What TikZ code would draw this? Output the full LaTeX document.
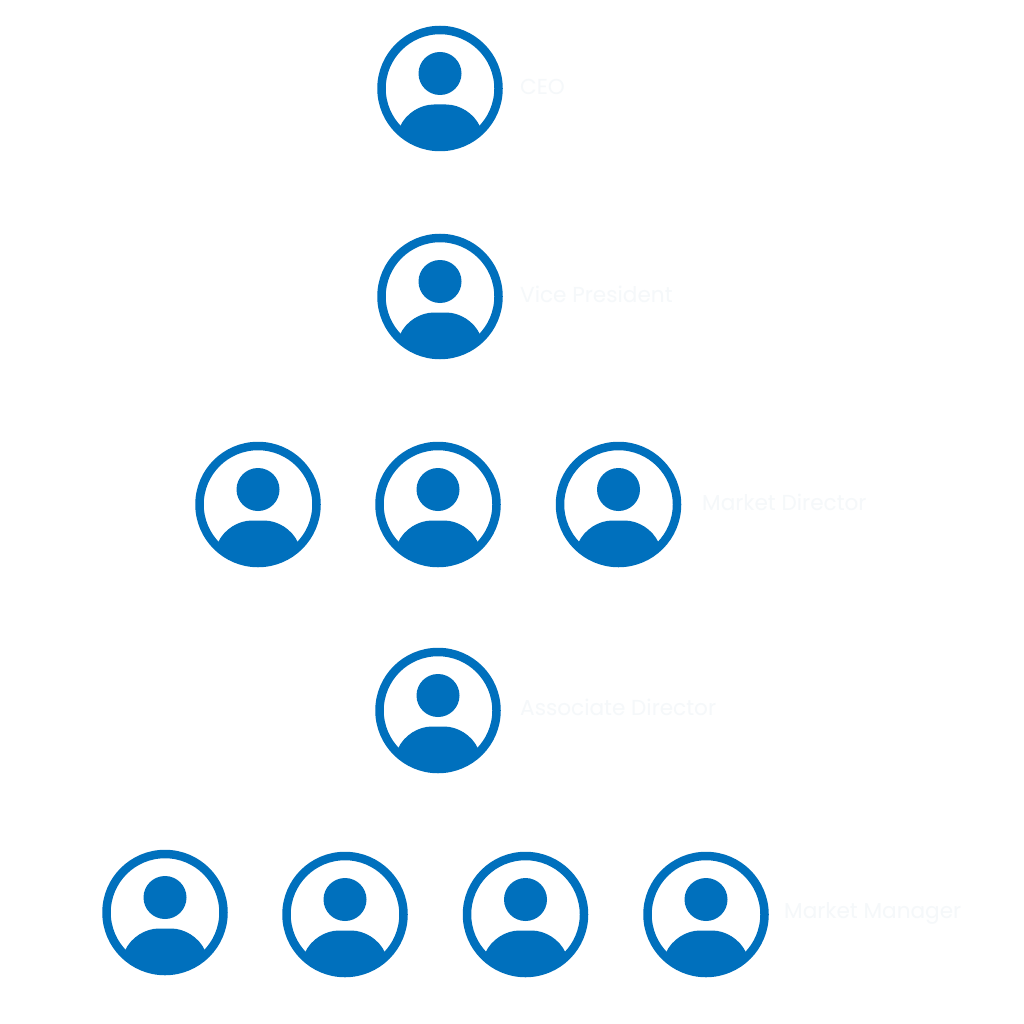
\documentclass[tikz,border=0pt]{standalone}
\usepackage{fontspec}
\setmainfont{Poppins}
\definecolor{iconblue}{HTML}{0070BD}
\definecolor{faint}{HTML}{F5F8FA}
\tikzset{
  x=1pt,y=-1pt,
  rolelabel/.style={text=faint,anchor=base west,inner sep=0pt,font=\fontsize{21.6}{26}\selectfont},
  person/.pic={
    \begin{scope}
      \clip (0,0) circle[radius=58.5pt];
      \fill[iconblue] (-40,38) .. controls (-34,25) and (-20,16) .. (-6,16) -- (6,16)
        .. controls (20,16) and (34,25) .. (40,38) -- (40,70) -- (-40,70) -- cycle;
    \end{scope}
    \draw[iconblue,line width=8.5pt] (0,0) circle[radius=58.5pt];
    \fill[iconblue] (-21.5,-15) arc[start angle=180,end angle=-180,radius=21.5pt] -- cycle;
  }
}
\begin{document}
\begin{tikzpicture}
\useasboundingbox[fill=white] (0,0) rectangle (1024,1024);
\pic at (440,88.5) {person};
\pic at (440,296.5) {person};
\pic at (258,504.5) {person};
\pic at (438,504.5) {person};
\pic at (618.5,504.5) {person};
\pic at (438,710.5) {person};
\pic at (165,912.5) {person};
\pic at (345,914.5) {person};
\pic at (525.5,914.5) {person};
\pic at (706,914.5) {person};
\node[rolelabel] (ceo) at (520,94.7) {CEO};
\node[rolelabel] (vp) at (520,302.7) {Vice President};
\node[rolelabel] (md) at (702,510.7) {Market Director};
\node[rolelabel] (ad) at (520,715.7) {Associate Director};
\node[rolelabel] (mm) at (784,918.7) {Market Manager};
\end{tikzpicture}
\end{document}
